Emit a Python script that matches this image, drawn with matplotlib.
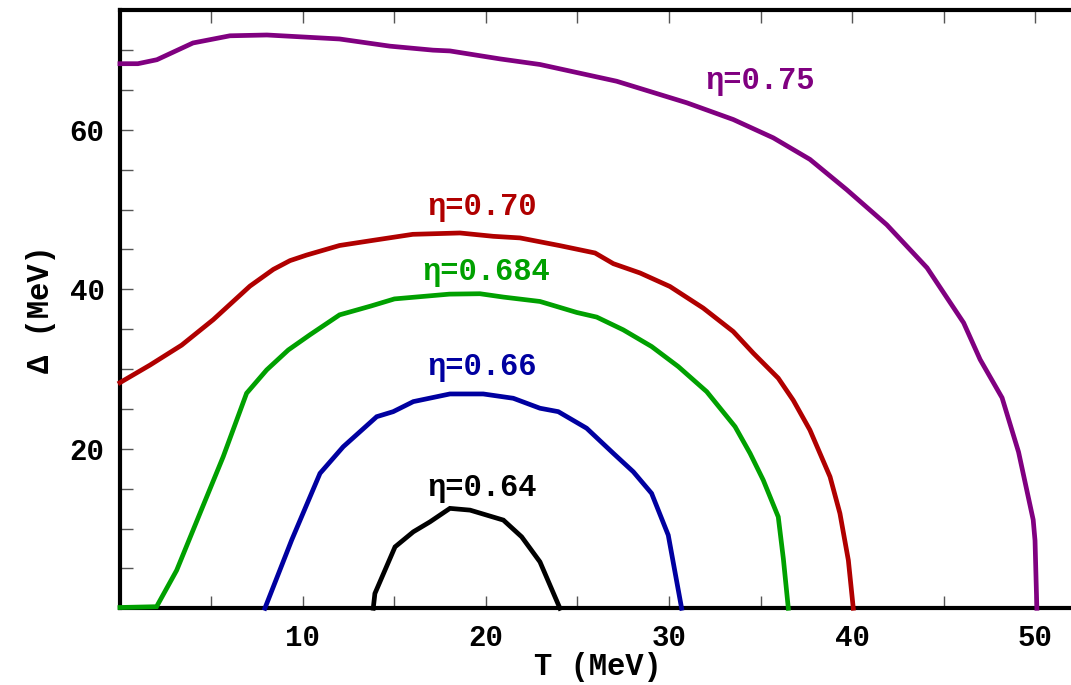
import matplotlib
matplotlib.use('Agg')
from matplotlib import pyplot as plt
from matplotlib.ticker import MultipleLocator

# contour lines Delta(T) for several eta values
t_075 = [0, 0.98, 2.02, 3.99, 6.01, 8.03, 12.0, 14.75, 17.1, 18.03, 20.77, 22.95, 27.14, 30.97,
         33.51, 35.7, 37.7, 39.71, 41.9, 44.1, 46.1, 47.0, 48.2, 49.1, 49.9, 50.0, 50.1]
d_075 = [68.3, 68.3, 68.8, 70.9, 71.8, 71.9, 71.4, 70.5, 70.0, 69.9, 68.9, 68.2, 66.1, 63.4,
         61.3, 59.0, 56.3, 52.5, 48.1, 42.7, 35.8, 31.2, 26.4, 19.6, 11.1, 8.5, 0.0]

t_070 = [0, 1.64, 3.37, 5.10, 7.10, 8.38, 9.29, 10.2, 12.0, 13.7, 16.0, 18.58, 20.4, 21.86,
         24.04, 25.96, 26.96, 28.42, 30.05, 31.87, 33.51, 34.61, 35.97, 36.79, 37.7, 38.8,
         39.34, 39.8, 40.07]
d_070 = [28.3, 30.5, 33.0, 36.2, 40.4, 42.5, 43.6, 44.3, 45.5, 46.1, 46.9, 47.07, 46.65, 46.45,
         45.48, 44.56, 43.22, 42.05, 40.36, 37.65, 34.71, 31.99, 28.86, 26.09, 22.36, 16.49,
         11.9, 6.03, 0.0]

t_0684 = [0, 2.0, 3.10, 4.37, 5.64, 6.92, 8.02, 9.20, 10.38, 12.0, 13.7, 15.0, 18.0, 19.67,
          20.95, 22.95, 24.96, 26.05, 27.5, 29.05, 30.51, 32.06, 33.61, 34.43, 35.15, 35.97,
          36.25, 36.52]
d_0684 = [0.1, 0.2, 4.77, 11.9, 19.0, 26.97, 29.9, 32.4, 34.3, 36.8, 37.9, 38.8, 39.4, 39.45,
          39.03, 38.48, 37.1, 36.52, 34.92, 32.83, 30.31, 27.17, 22.78, 19.43, 16.08, 11.47,
          6.19, 0.0]

t_066 = [7.92, 9.38, 10.93, 12.2, 14.03, 14.93, 16.03, 18.03, 19.85, 21.49, 22.95, 23.95,
         25.5, 26.96, 28.05, 29.05, 29.96, 30.69]
d_066 = [0.0, 8.54, 16.92, 20.26, 24.03, 24.66, 25.92, 26.88, 26.88, 26.34, 25.09, 24.66,
         22.58, 19.43, 17.12, 14.41, 9.17, 0.0]

t_064 = [13.84, 13.93, 15.03, 16.03, 16.94, 18.03, 19.13, 20.95, 21.95, 22.95, 24.04]
d_064 = [0.0, 1.85, 7.70, 9.59, 10.84, 12.53, 12.31, 11.06, 8.96, 5.82, 0.0]

curves = [
    (t_075, d_075, '#800080', 'η=0.75', (35.0, 66.1)),
    (t_070, d_070, '#b00000', 'η=0.70', (19.8, 50.3)),
    (t_0684, d_0684, '#00a000', 'η=0.684', (20.0, 42.2)),
    (t_066, d_066, '#0000a0', 'η=0.66', (19.8, 30.2)),
    (t_064, d_064, '#000000', 'η=0.64', (19.8, 15.1)),
]

mono = ['Liberation Mono', 'DejaVu Sans Mono']
plt.rcParams['font.family'] = mono
plt.rcParams['font.weight'] = 'bold'

fig = plt.figure(figsize=(10.71, 6.85), dpi=100)
ax = fig.add_axes([0.112, 0.112, 0.892, 0.873])

for t, d, color, label, (lx, ly) in curves:
    ax.plot(t, d, color=color, lw=3.4, solid_joinstyle='miter', clip_on=False, zorder=3)
    ax.text(lx, ly, label, color=color, fontsize=22, fontweight='bold',
            ha='center', va='center')

ax.set_xlim(0, 52.2)
ax.set_ylim(0, 75)
ax.xaxis.set_minor_locator(MultipleLocator(5))
ax.yaxis.set_minor_locator(MultipleLocator(5))
ax.set_xticks([10, 20, 30, 40, 50])
ax.set_yticks([20, 40, 60])

ax.tick_params(which='both', direction='in', top=True, right=False, length=9, width=1,
               color='#555555', labelsize=21, pad=11)
for lab in ax.get_xticklabels() + ax.get_yticklabels():
    lab.set_fontweight('bold')

for s in ax.spines.values():
    s.set_linewidth(3)

ax.set_xlabel('T (MeV)', fontsize=22, fontweight='bold', labelpad=0)
ax.set_ylabel('Δ (MeV)', fontsize=22, fontweight='bold', labelpad=10)

plt.savefig('out.png', dpi=100)
plt.close()
